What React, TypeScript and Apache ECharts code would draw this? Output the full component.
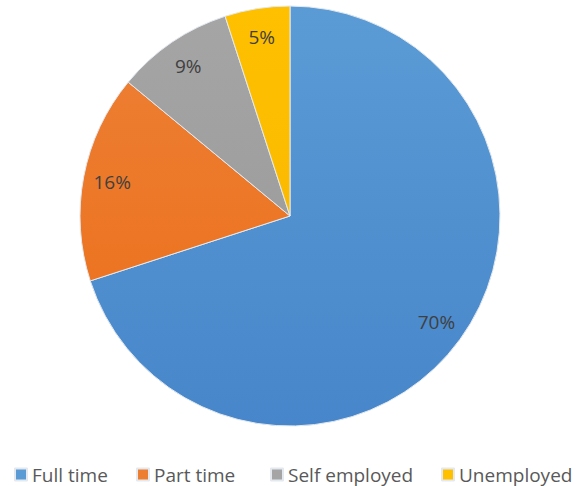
import React, { useEffect, useRef } from "react";
import * as echarts from "echarts";

const categories = ["Full time", "Part time", "Self employed", "Unemployed"];
const values = [70, 16, 9, 5];
const colors = ["#5B9BD5", "#ED7D31", "#A5A5A5", "#FFC000"];
const darkColors = ["#4786CA", "#EC7422", "#9E9E9E", "#FBBA00"];
const legendLefts = [14, 136, 270, 441];

export default function App() {
  const ref = useRef<HTMLDivElement>(null);
  useEffect(() => {
    if (!ref.current) return;
    const chart = echarts.init(ref.current, undefined, { renderer: "svg" });
    const data = categories.map((name, i) => ({
      name,
      value: values[i],
      itemStyle: {
        color: new echarts.graphic.LinearGradient(0, 0, 0, 1, [
          { offset: 0, color: colors[i] },
          { offset: 1, color: darkColors[i] },
        ]),
      },
    }));
    const labelData = categories.map((name, i) => ({ name, value: values[i] }));
    chart.setOption({
      animation: false,
      backgroundColor: "#ffffff",
      legend: categories.map((name, i) => ({
        left: legendLefts[i],
        top: 465,
        padding: 0,
        itemWidth: 12,
        itemHeight: 12,
        icon: "rect",
        selectedMode: false,
        textStyle: { fontFamily: "Open Sans", fontSize: 19, color: "#595959" },
        data: [{ name, itemStyle: { color: colors[i] } }],
      })),
      series: [
        {
          type: "pie",
          center: [290, 216],
          radius: [0, 210],
          startAngle: 90,
          clockwise: true,
          silent: true,
          label: { show: false },
          labelLine: { show: false },
          itemStyle: { borderColor: "#e3e9ef", borderWidth: 1 },
          data,
        },
        {
          type: "pie",
          center: [290, 216],
          radius: [146, 210],
          startAngle: 90,
          clockwise: true,
          silent: true,
          itemStyle: { color: "rgba(0,0,0,0)", borderWidth: 0 },
          label: {
            show: true,
            position: "inside",
            formatter: "{c}%",
            fontFamily: "Open Sans",
            fontSize: 19,
            color: "#404040",
          },
          labelLine: { show: false },
          data: labelData,
        },
      ],
    });
    return () => chart.dispose();
  }, []);
  return <div ref={ref} style={{ width: 576, height: 486, position: "absolute", left: 0, top: 0 }} />;
}
